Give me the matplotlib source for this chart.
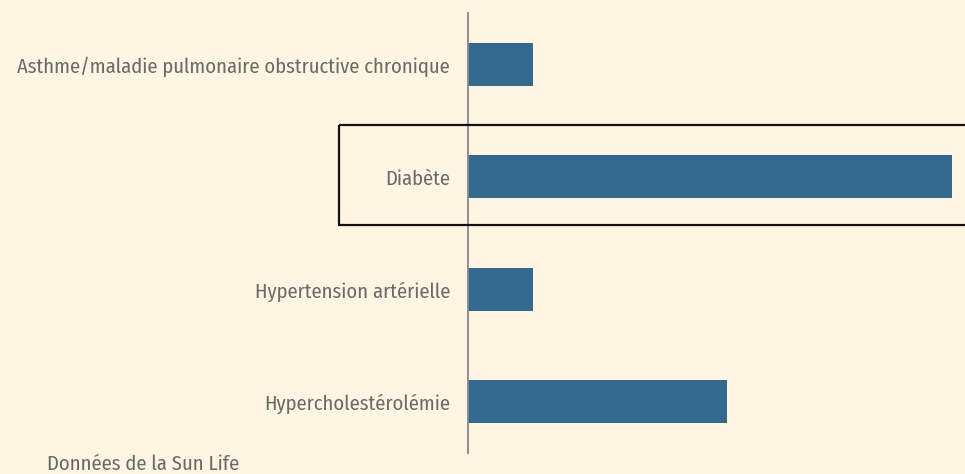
import matplotlib
matplotlib.use('Agg')
import matplotlib.pyplot as plt
from matplotlib.patches import Rectangle
import matplotlib.transforms as mtransforms

categories = ['Asthme/maladie pulmonaire obstructive chronique',
              'Diabète',
              'Hypertension artérielle',
              'Hypercholestérolémie']
values = [1.0, 7.45, 1.0, 3.98]
highlight = 'Diabète'
source = 'Données de la Sun Life'

bg = '#fef5e2'
barcolor = '#346a8e'
textcolor = '#6a6a6a'

plt.rcParams['font.family'] = ['Fira Sans Condensed', 'DejaVu Sans']

W, H = 965, 474
fig = plt.figure(figsize=(W/100, H/100), dpi=100, facecolor=bg)
ax = fig.add_axes([468/W, 1-453/H, (952-468)/W, (453-13)/H], facecolor=bg)

pos = list(range(len(categories)))
ax.barh(pos, values, height=0.383, color=barcolor)
ax.set_ylim(3.46, -0.46)
ax.set_xlim(0, max(values))
ax.set_yticks(pos)
ax.set_yticklabels(categories, fontsize=14.8, color=textcolor)
ax.tick_params(axis='y', length=0, pad=13)
ax.set_xticks([])
for s in ['top', 'right', 'bottom']:
  ax.spines[s].set_visible(False)
ax.spines['left'].set_color('#888888')
ax.spines['left'].set_linewidth(1.3)

# highlight box around one category
hi = categories.index(highlight)
trans = mtransforms.blended_transform_factory(fig.transFigure, ax.transData)
box = Rectangle((339/W, hi-0.46), 1.0, 0.885, transform=trans, fill=False,
                edgecolor='#111111', lw=1.6, clip_on=False)
fig.add_artist(box)

fig.text(47/W, 1-464/H, source, fontsize=14.8, color=textcolor, va='center', ha='left')

fig.savefig('out.png', dpi=100, facecolor=bg)
